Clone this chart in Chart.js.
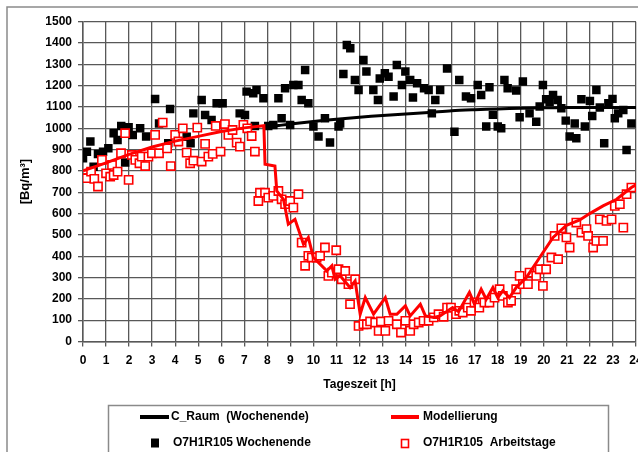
<!DOCTYPE html>
<html>
<head>
<meta charset="utf-8">
<script src="https://cdn.jsdelivr.net/npm/chart.js@4.4.1/dist/chart.umd.min.js"></script>
<style>
    html, body { margin: 0; padding: 0; background: #fff; overflow: hidden; }
</style>
</head>
<body>
<canvas id="radonChart" width="700" height="452"></canvas>
<script>
// Messwerte Wochenende (schwarze Quadrate)
var weekendHours = [0.0, 0.17, 0.32, 0.46, 0.65, 0.87, 1.1, 1.33, 1.5, 1.66, 1.83, 1.98, 2.16, 2.48, 2.74, 3.13, 3.3, 3.7, 3.78, 4.5, 4.67, 4.79, 5.15, 5.3, 5.58, 5.8, 6.06, 6.8, 7.03, 7.1, 7.39, 7.46, 7.53, 7.83, 8.04, 8.26, 8.48, 8.62, 8.77, 8.99, 9.13, 9.35, 9.49, 9.64, 9.78, 10.0, 10.22, 10.5, 10.72, 11.09, 11.16, 11.3, 11.45, 11.6, 11.8, 11.96, 12.17, 12.3, 12.6, 12.8, 12.88, 13.1, 13.26, 13.48, 13.62, 13.84, 13.99, 14.2, 14.32, 14.5, 14.8, 15.0, 15.14, 15.29, 15.5, 15.8, 16.12, 16.33, 16.62, 16.84, 17.13, 17.28, 17.5, 17.64, 17.79, 18.0, 18.15, 18.29, 18.43, 18.8, 18.95, 19.09, 19.38, 19.67, 19.82, 19.96, 20.1, 20.25, 20.4, 20.6, 20.76, 20.95, 21.12, 21.34, 21.41, 21.63, 21.78, 22.0, 22.1, 22.28, 22.43, 22.62, 22.8, 22.98, 23.08, 23.23, 23.45, 23.59, 23.8];
var weekendValues = [860, 890, 938, 820, 880, 890, 906, 977, 945, 1011, 840, 1005, 969, 1000, 961, 1137, 1023, 930, 1090, 960, 930, 1070, 1133, 1062, 1039, 1117, 1117, 1070, 1062, 1172, 1164, 1011, 1180, 1141, 1011, 1016, 1141, 1047, 1188, 1016, 1203, 1203, 1133, 1273, 1117, 1008, 961, 1047, 933, 1008, 1023, 1255, 1391, 1375, 1227, 1180, 1320, 1266, 1180, 1133, 1234, 1258, 1242, 1149, 1297, 1203, 1266, 1227, 1145, 1211, 1188, 1180, 1070, 1133, 1180, 1281, 984, 1227, 1149, 1141, 1203, 1156, 1008, 1192, 1063, 1008, 1000, 1227, 1188, 1177, 1052, 1219, 1070, 1031, 1102, 1203, 1136, 1125, 1156, 1133, 1094, 1036, 961, 1023, 953, 1136, 1008, 1128, 1058, 1180, 1098, 930, 1117, 1138, 1047, 1070, 1086, 898, 1023];

// Messwerte Arbeitstage (rote offene Quadrate)
var workHours = [0.0, 0.17, 0.35, 0.49, 0.65, 0.82, 1.0, 1.18, 1.26, 1.33, 1.5, 1.65, 1.83, 1.98, 2.12, 2.27, 2.45, 2.55, 2.7, 2.84, 2.99, 3.13, 3.3, 3.46, 3.65, 3.81, 4.0, 4.14, 4.33, 4.5, 4.65, 4.79, 4.96, 5.15, 5.3, 5.44, 5.63, 5.76, 5.97, 6.16, 6.31, 6.49, 6.67, 6.81, 6.96, 7.13, 7.32, 7.46, 7.61, 7.68, 7.9, 8.04, 8.26, 8.48, 8.62, 8.77, 8.99, 9.13, 9.35, 9.49, 9.64, 9.78, 9.93, 10.14, 10.29, 10.5, 10.65, 10.8, 10.99, 11.09, 11.23, 11.38, 11.52, 11.59, 11.81, 11.96, 12.17, 12.32, 12.46, 12.68, 12.83, 12.93, 13.12, 13.26, 13.62, 13.8, 13.99, 14.2, 14.35, 14.57, 14.78, 15.0, 15.22, 15.43, 15.65, 15.8, 15.97, 16.19, 16.33, 16.48, 16.7, 16.84, 16.99, 17.2, 17.42, 17.64, 17.86, 18.08, 18.22, 18.44, 18.58, 18.8, 18.95, 19.09, 19.31, 19.38, 19.67, 19.82, 19.96, 20.1, 20.33, 20.47, 20.62, 20.76, 20.98, 21.12, 21.41, 21.63, 21.85, 21.92, 22.14, 22.28, 22.43, 22.57, 22.72, 22.94, 23.08, 23.3, 23.45, 23.59, 23.8];
var workValues = [766, 766, 797, 763, 727, 852, 789, 773, 828, 781, 797, 883, 977, 758, 875, 852, 836, 867, 823, 867, 883, 969, 883, 1027, 906, 823, 969, 938, 1000, 886, 836, 848, 1003, 844, 927, 867, 880, 1011, 891, 1020, 969, 992, 933, 914, 1016, 1000, 964, 891, 659, 698, 698, 675, 683, 706, 667, 644, 659, 628, 691, 464, 355, 402, 394, 394, 402, 441, 308, 323, 428, 339, 292, 331, 269, 175, 292, 73, 81, 81, 94, 89, 50, 94, 50, 97, 81, 42, 97, 50, 81, 89, 97, 97, 113, 128, 116, 159, 159, 128, 144, 136, 159, 144, 183, 159, 183, 183, 206, 245, 214, 183, 191, 245, 308, 269, 269, 323, 308, 339, 261, 339, 394, 495, 386, 531, 488, 441, 558, 511, 527, 495, 441, 472, 573, 472, 566, 573, 636, 644, 534, 691, 722];

// Linie C_Raum (Wochenende)
var raumHours = [7.8, 8.5, 9, 10, 11, 12, 13, 14, 15, 16, 17, 18, 19, 20, 21, 22, 23, 24];
var raumValues = [1003, 1013, 1020, 1032, 1043, 1052, 1060, 1067, 1074, 1082, 1087, 1091, 1094, 1096, 1097, 1098, 1098, 1098];

// Linie Modellierung
var modelHours = [0, 1, 2, 3, 4, 5, 6, 7, 7.85, 7.9, 8.33, 8.41, 8.7, 8.91, 9.2, 9.57, 9.78, 10.0, 10.58, 10.8, 10.94, 11.16, 11.59, 11.81, 12.03, 12.25, 12.61, 13.12, 13.33, 13.62, 13.99, 14.2, 14.64, 14.86, 15.22, 15.5, 16.04, 16.3, 16.77, 16.99, 17.28, 17.5, 17.79, 18.0, 18.22, 18.51, 18.8, 19.24, 19.82, 20.4, 20.98, 21.56, 21.99, 22.57, 23.16, 23.8, 24];
var modelValues = [800, 838, 878, 912, 940, 962, 985, 1002, 1012, 831, 823, 706, 667, 550, 573, 456, 488, 394, 331, 355, 292, 308, 253, 284, 128, 206, 128, 206, 128, 128, 167, 120, 175, 120, 113, 120, 159, 140, 230, 175, 245, 198, 253, 206, 238, 206, 253, 300, 394, 488, 545, 570, 600, 636, 667, 722, 735];

function toPoints(xs, ys) {
    var pts = [];
    for (var i = 0; i < xs.length; i++) pts.push({ x: xs[i], y: ys[i] });
    return pts;
}

Chart.defaults.font.family = '"Liberation Sans", Arial, sans-serif';
Chart.defaults.color = '#000';

// Rahmen um das Diagramm
var framePlugin = {
    id: 'frame',
    beforeDraw: function (chart) {
        var c = chart.ctx;
        c.save();
        c.fillStyle = '#fff';
        c.fillRect(0, 0, chart.width, chart.height);
        c.strokeStyle = '#8a8a8a';
        c.lineWidth = 1.5;
        c.strokeRect(7, 7, 900, 900);
        c.restore();
    }
};

// Legende unten im Kasten, wie im Original
var boxLegend = {
    id: 'boxLegend',
    afterDraw: function (chart) {
        var c = chart.ctx;
        var ds = chart.data.datasets;
        c.save();
        c.strokeStyle = '#8a8a8a';
        c.lineWidth = 1.5;
        c.strokeRect(108.5, 405.5, 500, 80);
        c.font = 'bold 12px "Liberation Sans", Arial, sans-serif';
        c.fillStyle = '#000';
        c.textBaseline = 'middle';
        c.textAlign = 'left';

        // Reihe 1: Linien
        c.lineWidth = 4;
        c.strokeStyle = ds[0].borderColor;
        c.beginPath(); c.moveTo(140, 417); c.lineTo(169, 417); c.stroke();
        c.fillText(ds[0].label, 171, 417);
        c.strokeStyle = ds[1].borderColor;
        c.beginPath(); c.moveTo(391, 417); c.lineTo(419, 417); c.stroke();
        c.fillText(ds[1].label, 423, 417);

        // Reihe 2: Punkte
        c.fillStyle = ds[2].backgroundColor;
        c.fillRect(151, 438.5, 8, 9);
        c.fillStyle = '#000';
        c.fillText(ds[2].label, 173, 443);
        c.strokeStyle = ds[3].borderColor;
        c.lineWidth = 1.6;
        c.strokeRect(401.5, 439.5, 7, 8);
        c.fillText(ds[3].label, 423, 443);
        c.restore();
    }
};

var gridColor = '#585858';

var ctx = document.getElementById('radonChart').getContext('2d');
var radonChart = new Chart(ctx, {
    type: 'scatter',
    data: {
        datasets: [{
            label: 'C_Raum  (Wochenende)',
            data: toPoints(raumHours, raumValues),
            showLine: true,
            borderColor: '#000',
            borderWidth: 3,
            pointRadius: 0,
            tension: 0.3,
            order: 1
        }, {
            label: 'Modellierung',
            data: toPoints(modelHours, modelValues),
            showLine: true,
            borderColor: '#ff0000',
            borderWidth: 3,
            pointRadius: 0,
            tension: 0,
            order: 0
        }, {
            label: 'O7H1R105 Wochenende',
            data: toPoints(weekendHours, weekendValues),
            pointStyle: 'rect',
            pointRadius: 6,
            backgroundColor: '#000',
            borderColor: '#000',
            borderWidth: 0,
            order: 3
        }, {
            label: 'O7H1R105  Arbeitstage',
            data: toPoints(workHours, workValues),
            pointStyle: 'rect',
            pointRadius: 5.8,
            backgroundColor: '#fff',
            borderColor: '#ff0000',
            borderWidth: 1.6,
            order: 2
        }]
    },
    options: {
        responsive: false,
        animation: false,
        devicePixelRatio: 1,
        layout: { padding: { top: 21.7, right: 64, bottom: 0, left: 0 } },
        plugins: {
            legend: { display: false },
            tooltip: { enabled: false }
        },
        scales: {
            x: {
                type: 'linear',
                min: 0,
                max: 24,
                afterFit: function (s) { s.height = 110.5; },
                ticks: {
                    stepSize: 1, padding: 7, color: '#000',
                    font: { size: 12, weight: 'bold' },
                    callback: function (v) { return String(v); }
                },
                grid: { color: gridColor, lineWidth: 1.3, tickLength: 5, tickColor: gridColor },
                border: { color: gridColor, width: 1.5 },
                title: {
                    display: true,
                    text: 'Tageszeit [h]',
                    font: { size: 12, weight: 'bold' },
                    color: '#000',
                    padding: { top: 0, bottom: 60 }
                }
            },
            y: {
                min: 0,
                max: 1500,
                afterFit: function (s) { s.width = 83; },
                ticks: {
                    stepSize: 100, padding: 6, color: '#000',
                    font: { size: 12, weight: 'bold' },
                    callback: function (v) { return String(v); }
                },
                grid: { color: gridColor, lineWidth: 1.3, tickLength: 5, tickColor: gridColor },
                border: { color: gridColor, width: 1.5 },
                title: {
                    display: true,
                    text: '[Bq/m³]',
                    font: { size: 13, weight: 'bold' },
                    color: '#000',
                    padding: { top: 18, bottom: 0 }
                }
            }
        }
    },
    plugins: [framePlugin, boxLegend]
});
</script>
</body>
</html>
